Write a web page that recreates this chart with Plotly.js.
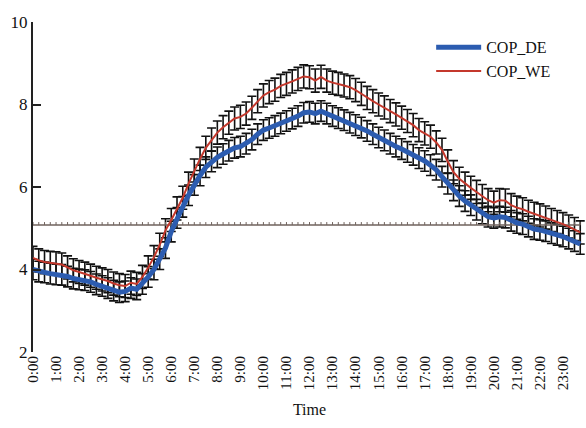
<!DOCTYPE html>
<html>
<head>
<meta charset="utf-8">
<script src="https://cdn.plot.ly/plotly-3.0.1.min.js"></script>
<style>html,body{margin:0;padding:0;background:#fff;}#chart{width:586px;height:428px;}</style>
</head>
<body>
<div id="chart"></div>
<script>
// hour tick labels
var hourTicks = [0,1,2,3,4,5,6,7,8,9,10,11,12,13,14,15,16,17,18,19,20,21,22,23];
var hourLabels = ["0:00","1:00","2:00","3:00","4:00","5:00","6:00","7:00","8:00","9:00","10:00","11:00",
  "12:00","13:00","14:00","15:00","16:00","17:00","18:00","19:00","20:00","21:00","22:00","23:00"];

// COP on workdays (DE), every 15 min from 0:00
var copDE = [
  4.00,3.95,3.93,3.90, 3.88,3.87,3.83,3.78, 3.76,3.74,3.70,3.64, 3.60,3.55,3.49,3.45,
  3.47,3.55,3.52,3.65, 3.82,4.00,4.25,4.52, 4.92,5.25,5.52,5.80, 6.05,6.28,6.48,6.62,
  6.72,6.80,6.88,6.95, 6.98,7.05,7.15,7.28, 7.38,7.43,7.48,7.54, 7.60,7.66,7.72,7.80,
  7.82,7.78,7.84,7.78, 7.72,7.67,7.62,7.56, 7.50,7.44,7.36,7.28, 7.20,7.13,7.05,6.98,
  6.92,6.85,6.78,6.70, 6.63,6.53,6.42,6.25, 6.08,5.92,5.78,5.66, 5.56,5.45,5.36,5.28,
  5.25,5.28,5.26,5.18, 5.13,5.10,5.04,4.98, 4.96,4.93,4.88,4.84, 4.80,4.75,4.69,4.62
];
// COP on weekends (WE)
var copWE = [
  4.28,4.22,4.18,4.16, 4.15,4.12,4.05,3.98, 3.94,3.90,3.85,3.80, 3.76,3.72,3.66,3.62,
  3.60,3.68,3.65,3.82, 4.05,4.30,4.60,4.95, 5.20,5.48,5.74,6.08, 6.40,6.68,6.95,7.15,
  7.32,7.45,7.56,7.66, 7.70,7.78,7.92,8.08, 8.22,8.30,8.36,8.45, 8.50,8.56,8.62,8.68,
  8.66,8.58,8.67,8.58, 8.53,8.50,8.46,8.42, 8.35,8.26,8.16,8.08, 8.00,7.93,7.84,7.76,
  7.68,7.60,7.50,7.38, 7.30,7.22,7.08,6.90, 6.62,6.36,6.20,6.08, 5.98,5.88,5.78,5.68,
  5.62,5.68,5.67,5.56, 5.50,5.46,5.40,5.35, 5.31,5.26,5.20,5.15, 5.10,5.04,4.98,4.90
];
var errDE = 0.25;
var errWE = 0.28;
var refLevel = 5.08;

var times = copDE.map(function(_, i){ return i * 0.25; });
var refY = times.map(function(){ return refLevel; });

var serif = "Liberation Serif, Times New Roman, serif";
var barStyle = function(v){ return {type:'constant', value:v, color:'#111', thickness:1.6, width:4.5}; };

var traces = [
  {x: times, y: copDE, mode:'markers', marker:{size:1, color:'rgba(0,0,0,0)'}, error_y: barStyle(errDE), showlegend:false, hoverinfo:'skip'},
  {x: times, y: copWE, mode:'markers', marker:{size:1, color:'rgba(0,0,0,0)'}, error_y: barStyle(errWE), showlegend:false, hoverinfo:'skip'},
  {x: times, y: refY, mode:'lines', line:{color:'#6f625c', width:1.5},
   error_y:{type:'data', symmetric:false, array: times.map(function(){return 0.07;}), arrayminus: times.map(function(){return 0;}), color:'#6f625c', thickness:1, width:0},
   showlegend:false, hoverinfo:'skip'},
  {x: times, y: copDE, mode:'lines', name:'COP_DE', line:{color:'#2c5cb0', width:5}},
  {x: times, y: copWE, mode:'lines', name:'COP_WE', line:{color:'#c4382c', width:2}}
];

var layout = {
  width:586, height:428,
  margin:{l:33, r:0, t:22, b:76},
  paper_bgcolor:'#fff', plot_bgcolor:'#fff',
  font:{family:serif, color:'#111', size:15},
  showlegend:true,
  legend:{x:0.72, y:0.975, xanchor:'left', yanchor:'top', bgcolor:'rgba(0,0,0,0)', itemwidth:45,
          font:{family:serif, size:16, color:'#111'}, tracegroupgap:0},
  xaxis:{range:[0,24], tickvals:hourTicks, ticktext:hourLabels, tickangle:-90,
         showline:false, showgrid:false, zeroline:false, ticks:'',
         tickfont:{family:serif, size:15, color:'#111'},
         title:{text:'Time', font:{family:serif, size:16, color:'#111'}, standoff:14}},
  yaxis:{range:[2,10], tickvals:[2,4,6,8,10], showline:true, linewidth:2, linecolor:'#222',
         ticks:'inside', ticklen:8, tickwidth:2, tickcolor:'#222', showgrid:false, zeroline:false,
         tickfont:{family:serif, size:17, color:'#111'}}
};

Plotly.newPlot('chart', traces, layout, {displayModeBar:false, staticPlot:true});
</script>
</body>
</html>
